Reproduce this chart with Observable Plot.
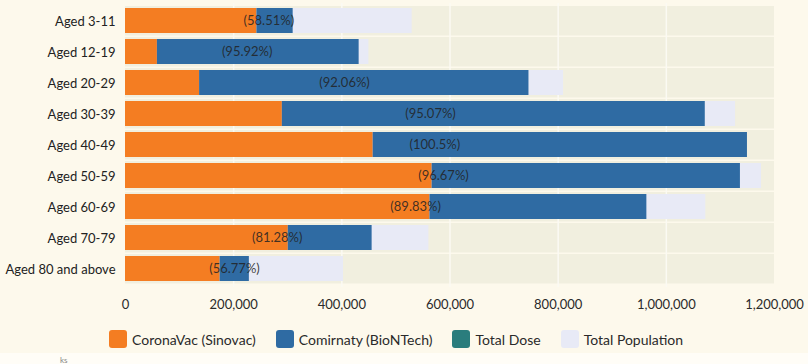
<!DOCTYPE html>
<html>
<head>
<meta charset="utf-8">
<script src="https://cdn.jsdelivr.net/npm/d3@7"></script>
<script src="https://cdn.jsdelivr.net/npm/@observablehq/plot@0.6"></script>
<style>
  html, body { margin: 0; padding: 0; background: #fdf9ec; width: 808px; height: 364px; overflow: hidden; }
  body { font-family: Lato, "Open Sans", sans-serif; position: relative; }
  #legend { position: absolute; left: 109px; top: 330px; display: flex; align-items: center; font-size: 14px; color: #2a2a2a; }
  .item { display: flex; align-items: center; margin-right: 20px; }
  .sw { width: 18px; height: 18px; border-radius: 3px; margin-right: 5px; }
  #foot { position: absolute; left: 0; top: 353px; width: 808px; height: 11px; background: #fffdf7; }
  #ks { position: absolute; left: 60px; top: 355px; font-size: 8px; color: #888; }
</style>
</head>
<body>
<div id="chart"></div>
<div id="legend"></div>
<div id="foot"></div>
<div id="ks">ks</div>
<script>
const ages = ["Aged 3-11","Aged 12-19","Aged 20-29","Aged 30-39","Aged 40-49","Aged 50-59","Aged 60-69","Aged 70-79","Aged 80 and above"];
const coronavac = [243000, 59000, 137000, 290000, 458000, 567000, 563000, 301000, 175000];
const comirnaty = [67000, 373000, 609000, 782000, 692000, 570000, 401000, 155000, 54000];
const population = [530000, 450000, 810000, 1128000, 1144000, 1176000, 1073000, 561000, 403000];
const pctLabels = ["(58.51%)","(95.92%)","(92.06%)","(95.07%)","(100.5%)","(96.67%)","(89.83%)","(81.28%)","(56.77%)"];
const xTicks = [0, 200000, 400000, 600000, 800000, 1000000, 1200000];
const seriesNames = ["CoronaVac (Sinovac)", "Comirnaty (BioNTech)", "Total Dose", "Total Population"];
const seriesColors = ["#f47d22", "#2f6ba3", "#2a7d7d", "#e8eaf6"];

const rows = ages.map((a, i) => ({
  age: a,
  cv: coronavac[i],
  total: coronavac[i] + comirnaty[i],
  pop: population[i],
  label: pctLabels[i],
  full: xTicks[xTicks.length - 1]
}));

const chart = Plot.plot({
  width: 808,
  height: 320,
  marginLeft: 125,
  marginRight: 34,
  marginTop: 3,
  marginBottom: 33,
  style: { background: "transparent", fontFamily: "Lato, 'Open Sans', sans-serif", fontSize: "13px", color: "#2a2a2a" },
  x: { domain: [0, 1200000], ticks: xTicks, tickFormat: d3.format(","), label: null, tickSize: 0, tickPadding: 12 },
  y: { domain: ages, label: null, padding: 0, tickSize: 0, tickPadding: 10 },
  marks: [
    Plot.barX(rows, { y: "age", x1: 0, x2: "full", fill: "#f1efdf", insetBottom: 1.5 }),
    Plot.ruleX(xTicks.slice(1, -1), { stroke: "#fbfaf3", strokeWidth: 1.5 }),
    Plot.barX(rows, { y: "age", x1: 0, x2: "pop", fill: seriesColors[3], insetTop: 2, insetBottom: 4 }),
    Plot.barX(rows, { y: "age", x1: 0, x2: "cv", fill: seriesColors[0], insetTop: 2, insetBottom: 4 }),
    Plot.barX(rows, { y: "age", x1: "cv", x2: "total", fill: seriesColors[1], insetTop: 2, insetBottom: 4 }),
    Plot.text(rows, { y: "age", x: d => d.pop / 2, text: "label", fill: "#222", fillOpacity: 0.85, fontSize: 13, dy: -1 }),
    Plot.axisY({ tickSize: 0, tickPadding: 10, fontSize: 13, fill: "#222" }),
    Plot.axisX({ ticks: xTicks, tickFormat: d3.format(","), tickSize: 0, tickPadding: 12, fontSize: 13, fill: "#2a2a2a" })
  ]
});
document.getElementById("chart").appendChild(chart);

const legend = document.getElementById("legend");
seriesNames.forEach((n, i) => {
  const it = document.createElement("div");
  it.className = "item";
  const sw = document.createElement("div");
  sw.className = "sw";
  sw.style.background = seriesColors[i];
  const t = document.createElement("span");
  t.textContent = n;
  it.appendChild(sw);
  it.appendChild(t);
  legend.appendChild(it);
});
</script>
</body>
</html>
